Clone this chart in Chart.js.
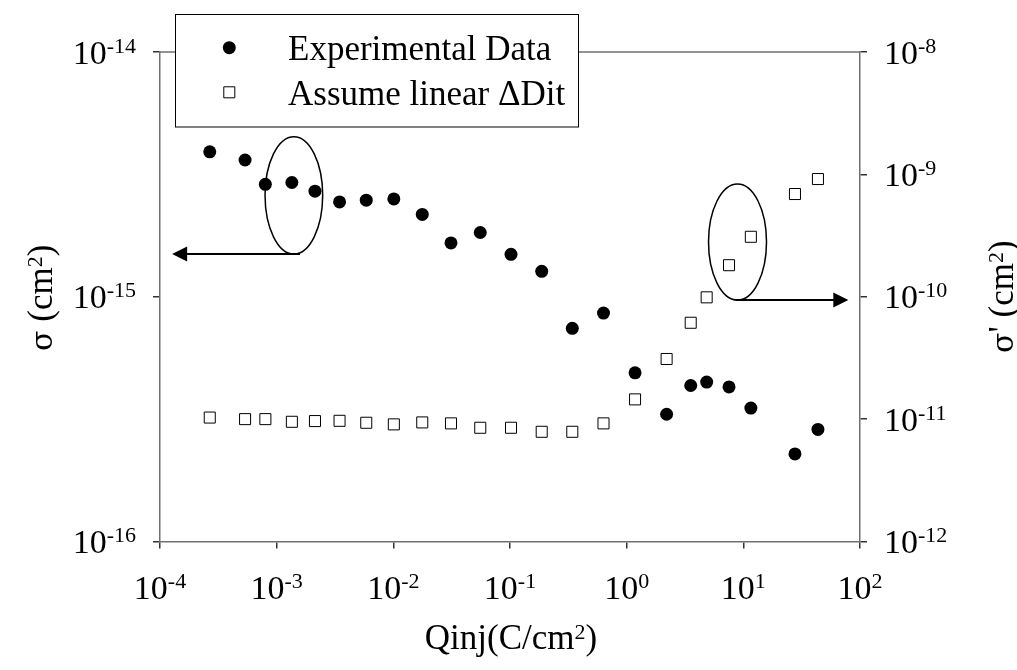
<!DOCTYPE html>
<html>
<head>
<meta charset="utf-8">
<title>Capture cross section vs injected charge</title>
<script src="https://cdn.jsdelivr.net/npm/chart.js@4/dist/chart.umd.min.js"></script>
<style>
  html, body { margin: 0; padding: 0; background: #fff; }
  #wrap { width: 1017px; height: 670px; }
</style>
</head>
<body>
<div id="wrap"><canvas id="sigmaChart" width="1017" height="670"></canvas></div>
<script>
// injected charge (C/cm2)
var qinj = [2.67e-4, 5.36e-4, 8.0e-4, 1.35e-3, 2.13e-3, 3.46e-3, 5.86e-3, 1.01e-2,
  1.77e-2, 3.12e-2, 5.56e-2, 0.102, 0.187, 0.342, 0.633, 1.18, 2.20, 3.54, 4.85,
  7.54, 11.6, 27.7, 43.6];
// measured sigma (cm2), left axis
var sigmaExp = [3.91e-15, 3.62e-15, 2.88e-15, 2.93e-15, 2.70e-15, 2.44e-15, 2.48e-15,
  2.51e-15, 2.17e-15, 1.66e-15, 1.83e-15, 1.49e-15, 1.27e-15, 7.43e-16, 8.58e-16,
  4.89e-16, 3.31e-16, 4.34e-16, 4.48e-16, 4.28e-16, 3.51e-16, 2.28e-16, 2.87e-16];
// sigma' with linear Dit assumption (cm2), right axis
var sigmaLin = [1.03e-11, 1.00e-11, 1.00e-11, 9.51e-12, 9.64e-12, 9.69e-12, 9.34e-12,
  9.06e-12, 9.40e-12, 9.23e-12, 8.50e-12, 8.50e-12, 7.88e-12, 7.88e-12, 9.23e-12,
  1.45e-11, 3.10e-11, 6.13e-11, 9.89e-11, 1.81e-10, 3.09e-10, 6.91e-10, 9.16e-10];

var seriesNames = ["Experimental Data", "Assume linear \u0394Dit"];

// decade ticks
var xTicks = [1e-4, 1e-3, 1e-2, 1e-1, 1e0, 1e1, 1e2];
var yTicks = [1e-16, 1e-15, 1e-14];
var y2Ticks = [1e-12, 1e-11, 1e-10, 1e-9, 1e-8];

var serif = '"Liberation Serif", "Times New Roman", serif';
var greek = '"DejaVu Serif", serif';
var axisGray = "#707070";

function points(ys) {
  return qinj.map(function (q, i) { return { x: q, y: ys[i] }; });
}

function setTicks(list) {
  return function (scale) {
    scale.ticks = list.map(function (v) { return { value: v }; });
  };
}

function expOf(v) {
  return String(Math.round(Math.log10(v)));
}

// "10" followed by a raised exponent, y is the baseline of "10"
function drawPower(ctx, exp, x, y, align) {
  ctx.font = "34px " + serif;
  var wBase = ctx.measureText("10").width;
  ctx.font = "22px " + serif;
  var wExp = ctx.measureText(exp).width;
  var total = wBase + wExp;
  var left = x;
  if (align === "right") left = x - total;
  if (align === "center") left = x - total / 2;
  ctx.textAlign = "left";
  ctx.textBaseline = "alphabetic";
  ctx.font = "34px " + serif;
  ctx.fillText("10", left, y);
  ctx.font = "22px " + serif;
  ctx.fillText(exp, left + wBase, y - 11);
}

// pieces [text, kind] centred on (0, 0) baseline; kind: "sup" or "greek"
function pieceFont(kind) {
  if (kind === "sup") return "22px " + serif;
  if (kind === "greek") return "30px " + greek;
  return "35px " + serif;
}

function drawTitle(ctx, parts) {
  var total = 0;
  parts.forEach(function (p) {
    ctx.font = pieceFont(p[1]);
    p.w = ctx.measureText(p[0]).width;
    total += p.w;
  });
  var x = -total / 2;
  ctx.textAlign = "left";
  ctx.textBaseline = "alphabetic";
  parts.forEach(function (p) {
    ctx.font = pieceFont(p[1]);
    ctx.fillText(p[0], x, p[1] === "sup" ? -10 : 0);
    x += p.w;
  });
}

// ellipse callouts with arrows pointing to the axis they belong to
var callouts = [
  { axis: "y", x0: 7.95e-4, x1: 2.48e-3, y0: 1.494e-15, y1: 4.51e-15, from: 1.585e-3, to: 1.27e-4 },
  { axis: "y2", x0: 5.03, x1: 15.8, y0: 9.4e-11, y1: 8.34e-10, from: 8.6, to: 79.4 }
];

function arrow(ctx, xs, xe, y) {
  var dir = xe > xs ? 1 : -1;
  ctx.beginPath();
  ctx.moveTo(xs, y);
  ctx.lineTo(xe - dir * 14, y);
  ctx.stroke();
  ctx.beginPath();
  ctx.moveTo(xe, y);
  ctx.lineTo(xe - dir * 15, y - 7.5);
  ctx.lineTo(xe - dir * 15, y + 7.5);
  ctx.closePath();
  ctx.fill();
}

var decorations = {
  id: "decorations",
  beforeDatasetsDraw: function (chart) {
    var ctx = chart.ctx, a = chart.chartArea;
    // top frame line
    ctx.save();
    ctx.strokeStyle = axisGray;
    ctx.lineWidth = 1.5;
    ctx.beginPath();
    ctx.moveTo(a.left, a.top);
    ctx.lineTo(a.right, a.top);
    ctx.stroke();
    ctx.restore();
  },
  afterDraw: function (chart) {
    var ctx = chart.ctx, a = chart.chartArea, s = chart.scales;
    ctx.save();
    ctx.fillStyle = "#000";

    // tick labels
    xTicks.forEach(function (v) {
      drawPower(ctx, expOf(v), s.x.getPixelForValue(v), a.bottom + 57, "center");
    });
    yTicks.forEach(function (v) {
      drawPower(ctx, expOf(v), 136, s.y.getPixelForValue(v) + 11.5, "right");
    });
    y2Ticks.forEach(function (v) {
      drawPower(ctx, expOf(v), 884, s.y2.getPixelForValue(v) + 11.5, "left");
    });

    // axis titles
    var midY = (a.top + a.bottom) / 2;
    ctx.save();
    ctx.translate((a.left + a.right) / 2 + 1, 649);
    drawTitle(ctx, [["Qinj(C/cm", ""], ["2", "sup"], [")", ""]]);
    ctx.restore();

    ctx.save();
    ctx.translate(52, midY + 1);
    ctx.rotate(-Math.PI / 2);
    drawTitle(ctx, [["\u03c3", "greek"], [" (cm", ""], ["2", "sup"], [")", ""]]);
    ctx.restore();

    ctx.save();
    ctx.translate(1013, midY);
    ctx.rotate(-Math.PI / 2);
    drawTitle(ctx, [["\u03c3", "greek"], ["' (cm", ""], ["2", "sup"], [")", ""]]);
    ctx.restore();

    // callouts
    ctx.strokeStyle = "#000";
    callouts.forEach(function (c) {
      var ys = s[c.axis];
      var l = s.x.getPixelForValue(c.x0), r = s.x.getPixelForValue(c.x1);
      var b = ys.getPixelForValue(c.y0), t = ys.getPixelForValue(c.y1);
      ctx.lineWidth = 1.5;
      ctx.beginPath();
      ctx.ellipse((l + r) / 2, (t + b) / 2, (r - l) / 2, (b - t) / 2, 0, 0, Math.PI * 2);
      ctx.stroke();
      ctx.lineWidth = 2;
      arrow(ctx, s.x.getPixelForValue(c.from), s.x.getPixelForValue(c.to), b);
    });

    // legend box
    ctx.fillStyle = "#fff";
    ctx.fillRect(175.5, 14.5, 403, 112.5);
    ctx.strokeStyle = "#000";
    ctx.lineWidth = 1;
    ctx.strokeRect(175.5, 14.5, 403, 112.5);

    var ds = chart.data.datasets;
    var rows = [47.7, 92.3];
    ds.forEach(function (d, i) {
      var cy = rows[i];
      ctx.fillStyle = d.backgroundColor;
      ctx.strokeStyle = d.borderColor;
      ctx.lineWidth = d.borderWidth;
      ctx.beginPath();
      if (d.pointStyle === "circle") {
        ctx.arc(229.3, cy, d.pointRadius, 0, Math.PI * 2);
      } else {
        var h = d.pointRadius * Math.SQRT1_2;
        ctx.rect(229.3 - h, cy - h, 2 * h, 2 * h);
      }
      ctx.fill();
      if (d.borderWidth > 0) ctx.stroke();
      ctx.fillStyle = "#000";
      ctx.font = "35px " + serif;
      ctx.textAlign = "left";
      ctx.textBaseline = "alphabetic";
      ctx.fillText(d.label, 288, cy + 12.5);
    });
    ctx.restore();
  }
};

function logAxis(min, max, ticks, pos) {
  return {
    type: "logarithmic",
    position: pos,
    min: min,
    max: max,
    afterBuildTicks: setTicks(ticks),
    ticks: { display: false },
    grid: { drawOnChartArea: false, drawTicks: true, tickLength: 7, tickColor: "#333", lineWidth: 1.5 },
    border: { color: axisGray, width: 1.5 }
  };
}

var xAxis = logAxis(1e-4, 1e2, xTicks, "bottom");
xAxis.afterFit = function (scale) { scale.height = 128.5; };
var yAxis = logAxis(1e-16, 1e-14, yTicks, "left");
yAxis.afterFit = function (scale) { scale.width = 160; };
var y2Axis = logAxis(1e-12, 1e-8, y2Ticks, "right");
y2Axis.afterFit = function (scale) { scale.width = 157; };

var chart = new Chart(document.getElementById("sigmaChart"), {
  type: "scatter",
  data: {
    datasets: [
      {
        label: seriesNames[0],
        data: points(sigmaExp),
        yAxisID: "y",
        pointStyle: "circle",
        pointRadius: 6.5,
        backgroundColor: "#000",
        borderColor: "#000",
        borderWidth: 0
      },
      {
        label: seriesNames[1],
        data: points(sigmaLin),
        yAxisID: "y2",
        pointStyle: "rect",
        pointRadius: 7.8,
        backgroundColor: "#fff",
        borderColor: "#000",
        borderWidth: 1
      }
    ]
  },
  options: {
    responsive: false,
    animation: false,
    devicePixelRatio: 1,
    layout: { padding: { top: 52, left: 0, right: 0, bottom: 0 } },
    plugins: { legend: { display: false }, tooltip: { enabled: false } },
    scales: { x: xAxis, y: yAxis, y2: y2Axis }
  },
  plugins: [decorations]
});
</script>
</body>
</html>
